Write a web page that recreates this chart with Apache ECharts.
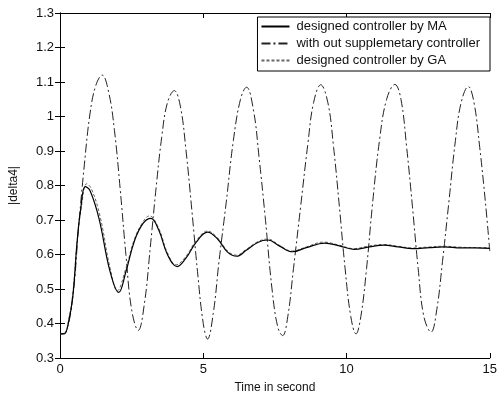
<!DOCTYPE html>
<html>
<head>
<meta charset="utf-8">
<script src="https://cdn.jsdelivr.net/npm/echarts@6/dist/echarts.min.js"></script>
<style>
  html, body { margin: 0; padding: 0; background: #fff; }
  #chart { width: 500px; height: 399px; }
</style>
</head>
<body>
<div id="chart"></div>
<script>
// time (s) and |delta4| values
const timeMA = [0, 0.15, 0.3, 0.45, 0.6, 0.72, 0.88, 1.05, 1.36, 1.74, 2.05, 2.3, 2.6, 2.9, 3.17, 3.45, 3.75, 4.09, 4.4, 4.75, 5.15, 5.5, 5.85, 6.17, 6.5, 6.9, 7.26, 7.65, 8.11, 8.6, 9.24, 9.75, 10.26, 10.8, 11.3, 11.8, 12.3, 12.9, 13.4, 14.0, 14.5, 15]
const valuesMA = [0.37, 0.37, 0.405, 0.48, 0.64, 0.73, 0.797, 0.785, 0.705, 0.553, 0.49, 0.55, 0.64, 0.69, 0.705, 0.67, 0.6, 0.565, 0.59, 0.635, 0.665, 0.645, 0.607, 0.595, 0.612, 0.635, 0.642, 0.625, 0.608, 0.62, 0.633, 0.625, 0.615, 0.622, 0.627, 0.622, 0.617, 0.62, 0.622, 0.619, 0.619, 0.618]

const timeNone = [0, 0.2, 0.45, 0.65, 0.85, 1.05, 1.25, 1.47, 1.7, 1.9, 2.1, 2.3, 2.5, 2.73, 2.95, 3.15, 3.35, 3.55, 3.75, 3.99, 4.2, 4.4, 4.6, 4.8, 5.0, 5.15, 5.35, 5.55, 5.8, 6.05, 6.3, 6.51, 6.75, 6.95, 7.16, 7.4, 7.6, 7.77, 7.95, 8.15, 8.4, 8.65, 8.85, 9.1, 9.35, 9.55, 9.75, 9.95, 10.15, 10.33, 10.5, 10.7, 10.9, 11.15, 11.4, 11.69, 11.9, 12.1, 12.3, 12.5, 12.7, 12.95, 13.15, 13.35, 13.57, 13.8, 14.0, 14.25, 14.45, 14.65, 14.85, 15]
const valuesNone = [0.37, 0.375, 0.48, 0.68, 0.86, 1.01, 1.09, 1.12, 1.07, 0.96, 0.79, 0.6, 0.44, 0.38, 0.46, 0.62, 0.79, 0.94, 1.04, 1.075, 1.03, 0.9, 0.73, 0.55, 0.4, 0.355, 0.43, 0.58, 0.75, 0.93, 1.05, 1.085, 1.02, 0.88, 0.71, 0.5, 0.39, 0.365, 0.42, 0.56, 0.74, 0.92, 1.04, 1.092, 1.04, 0.91, 0.74, 0.56, 0.42, 0.37, 0.42, 0.56, 0.74, 0.93, 1.05, 1.093, 1.05, 0.91, 0.74, 0.56, 0.42, 0.375, 0.44, 0.58, 0.75, 0.93, 1.04, 1.087, 1.04, 0.91, 0.75, 0.61]

const timeGA = [0, 0.15, 0.3, 0.45, 0.6, 0.75, 0.93, 1.1, 1.4, 1.75, 2.0, 2.3, 2.6, 2.9, 3.12, 3.45, 3.75, 4.05, 4.4, 4.75, 5.15, 5.5, 5.85, 6.15, 6.5, 6.9, 7.25, 7.65, 8.1, 8.6, 9.2, 9.75, 10.25, 10.8, 11.3, 11.8, 12.3, 12.9, 13.4, 14.0, 14.5, 15]
const valuesGA = [0.37, 0.37, 0.41, 0.49, 0.64, 0.74, 0.805, 0.79, 0.71, 0.56, 0.495, 0.56, 0.645, 0.695, 0.712, 0.675, 0.605, 0.57, 0.595, 0.64, 0.668, 0.648, 0.61, 0.598, 0.615, 0.637, 0.645, 0.627, 0.61, 0.622, 0.636, 0.627, 0.617, 0.625, 0.629, 0.624, 0.619, 0.622, 0.624, 0.621, 0.62, 0.62]

const seriesNames = ["designed controller by MA", "with out supplemetary controller", "designed controller by GA"]
const xTicks = [0, 5, 10, 15]
const yTicks = [0.3, 0.4, 0.5, 0.6, 0.7, 0.8, 0.9, 1, 1.1, 1.2, 1.3]

const pairs = (t, v) => t.map((x, i) => [x, v[i]])

const font = "Liberation Sans, Arial, sans-serif"
const chart = echarts.init(document.getElementById("chart"))

const baseAxis = {
  axisLine: { show: true, lineStyle: { color: "#000", width: 1 } },
  axisTick: { show: true, inside: true, length: 5, lineStyle: { color: "#000" } },
  splitLine: { show: false },
}

const option = {
  animation: false,
  backgroundColor: "#fff",
  textStyle: { fontFamily: font },
  grid: { left: 52, right: 7, top: 13, bottom: 38 },
  legend: {
    orient: "vertical",
    right: 10,
    top: 17,
    data: seriesNames,
    backgroundColor: "#fff",
    borderColor: "#000",
    borderWidth: 1,
    borderRadius: 0,
    padding: [3, 10, 4, 3],
    itemGap: 4,
    itemWidth: 28,
    itemHeight: 12,
    itemStyle: { opacity: 0 },
    textStyle: { fontSize: 13, color: "#111", fontFamily: font, padding: [0, 0, 0, 2] },
  },
  xAxis: [
    {
      ...baseAxis,
      type: "value",
      min: 0,
      max: 15,
      interval: 5,
      name: "Time in second",
      nameLocation: "middle",
      nameGap: 24,
      nameTextStyle: { fontSize: 12, color: "#111" },
      axisLabel: { fontSize: 13, color: "#111", margin: 5, customValues: xTicks },
    },
    {
      ...baseAxis,
      type: "value",
      position: "top",
      min: 0,
      max: 15,
      interval: 5,
      axisLabel: { show: false },
    },
  ],
  yAxis: [
    {
      ...baseAxis,
      type: "value",
      min: 0.3,
      max: 1.3,
      interval: 0.1,
      name: "|delta4|",
      nameLocation: "middle",
      nameGap: 40,
      nameTextStyle: { fontSize: 12, color: "#111" },
      axisLabel: {
        fontSize: 13,
        color: "#111",
        margin: 6,
        formatter: (v) => {
          const r = Math.round(v * 10) / 10
          return yTicks.includes(r) ? String(r) : ""
        },
      },
    },
    {
      ...baseAxis,
      type: "value",
      position: "right",
      min: 0.3,
      max: 1.3,
      interval: 0.1,
      axisLabel: { show: false },
    },
  ],
  series: [
    {
      name: seriesNames[0],
      type: "line",
      data: pairs(timeMA, valuesMA),
      smooth: 0.4,
      showSymbol: false,
      symbol: "none",
      z: 3,
      lineStyle: { color: "#000", width: 1.2, type: "solid" },
      itemStyle: { color: "#000" },
    },
    {
      name: seriesNames[1],
      type: "line",
      data: pairs(timeNone, valuesNone),
      smooth: 0.4,
      showSymbol: false,
      symbol: "none",
      z: 2,
      lineStyle: { color: "#222", width: 1, type: [9, 3, 2, 3] },
      itemStyle: { color: "#222" },
    },
    {
      name: seriesNames[2],
      type: "line",
      data: pairs(timeGA, valuesGA),
      smooth: 0.4,
      showSymbol: false,
      symbol: "none",
      z: 2,
      lineStyle: { color: "#666", width: 1, type: [3, 2] },
      itemStyle: { color: "#666" },
    },
  ],
}

chart.setOption(option)
</script>
</body>
</html>
